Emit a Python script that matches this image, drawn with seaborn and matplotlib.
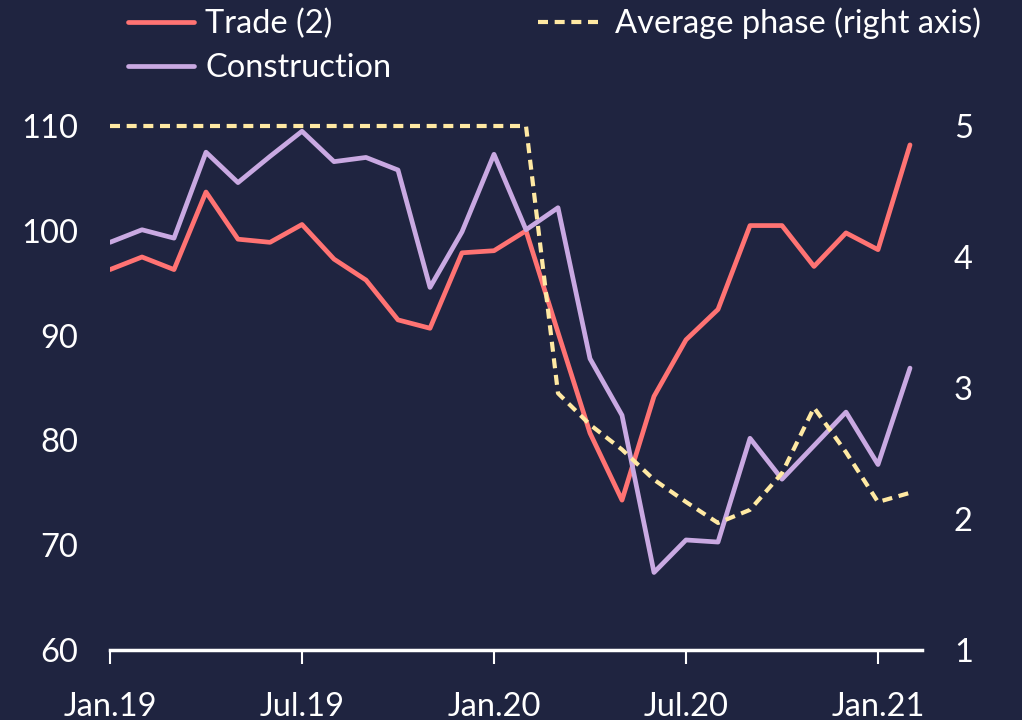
import matplotlib
matplotlib.use("Agg")
import matplotlib.pyplot as plt
import numpy as np
import pandas as pd
import seaborn as sns

# monthly data, Jan.19 .. Feb.21
months = pd.date_range("2019-01-01", periods=26, freq="MS")
trade = [96.3, 97.5, 96.3, 103.7, 99.2, 98.9, 100.6, 97.3, 95.3, 91.5, 90.7, 97.9, 98.1,
         100.0, 90.3, 80.7, 74.3, 84.2, 89.6, 92.5, 100.5, 100.5, 96.6, 99.8, 98.2, 108.2]
construction = [98.9, 100.1, 99.3, 107.5, 104.6, 107.1, 109.5, 106.6, 107.0, 105.8, 94.6, 99.9, 107.3,
                100.1, 102.2, 87.8, 82.4, 67.4, 70.5, 70.3, 80.2, 76.3, 79.5, 82.7, 77.7, 86.9]
avg_phase = [5, 5, 5, 5, 5, 5, 5, 5, 5, 5, 5, 5, 5,
             5, 2.96, 2.72, 2.53, 2.30, 2.13, 1.97, 2.07, 2.35, 2.85, 2.51, 2.13, 2.20]
tick_pos = [0, 6, 12, 18, 24]
tick_labels = ["Jan.19", "Jul.19", "Jan.20", "Jul.20", "Jan.21"]

bg = "#1f2440"
red = "#ff7373"
purple = "#c9a9e2"
yellow = "#ffe9a3"

sns.set_style("dark")
plt.rcParams["font.family"] = ["Lato", "DejaVu Sans"]
fs = 23.5

x = np.arange(len(months))
fig = plt.figure(figsize=(10.22, 7.2), dpi=100, facecolor=bg)
ax = fig.add_axes([110 / 1022, 70 / 720, 812 / 1022, 524 / 720])
ax.set_facecolor(bg)
ax2 = ax.twinx()

sns.lineplot(x=x, y=trade, ax=ax, color=red, linewidth=3.4, label="Trade (2)", legend=False)
sns.lineplot(x=x, y=construction, ax=ax, color=purple, linewidth=3.4, label="Construction", legend=False)
sns.lineplot(x=x, y=avg_phase, ax=ax2, color=yellow, label="Average phase (right axis)", legend=False)
dash = ax2.lines[0]
dash.set_linewidth(3.0)
dash.set_dashes([2.4, 1.6])
dash.set_clip_on(False)

ax.set_xlim(0, 25.375)
ax.set_ylim(60, 110)
ax2.set_ylim(1, 5)
ax.set_yticks([60, 70, 80, 90, 100, 110])
ax2.set_yticks([1, 2, 3, 4, 5])
ax.set_xticks(tick_pos)
ax.set_xticklabels(tick_labels)
ax.grid(False)
ax2.grid(False)

for a in (ax, ax2):
    for s in a.spines.values():
        s.set_visible(False)
ax.spines["bottom"].set_visible(True)
ax.spines["bottom"].set_color("white")
ax.spines["bottom"].set_linewidth(2.5)

ax.tick_params(axis="x", colors="white", labelsize=fs, length=10, width=1.5, direction="out",
               pad=20, bottom=True)
ax.tick_params(axis="y", colors="white", labelsize=fs, length=0, pad=23)
ax2.tick_params(axis="y", colors="white", labelsize=fs, length=0, pad=23)

h1, l1 = ax.get_legend_handles_labels()
h2, l2 = ax2.get_legend_handles_labels()
leg = fig.legend(h1 + h2, l1 + l2, ncol=2, loc="upper left", bbox_to_anchor=(99 / 1022, 1.03),
                 frameon=False, fontsize=fs, labelcolor="white", handlelength=2.0,
                 handletextpad=0.35, columnspacing=4.5, labelspacing=0.42)

fig.savefig("out.png", dpi=100, facecolor=bg)
